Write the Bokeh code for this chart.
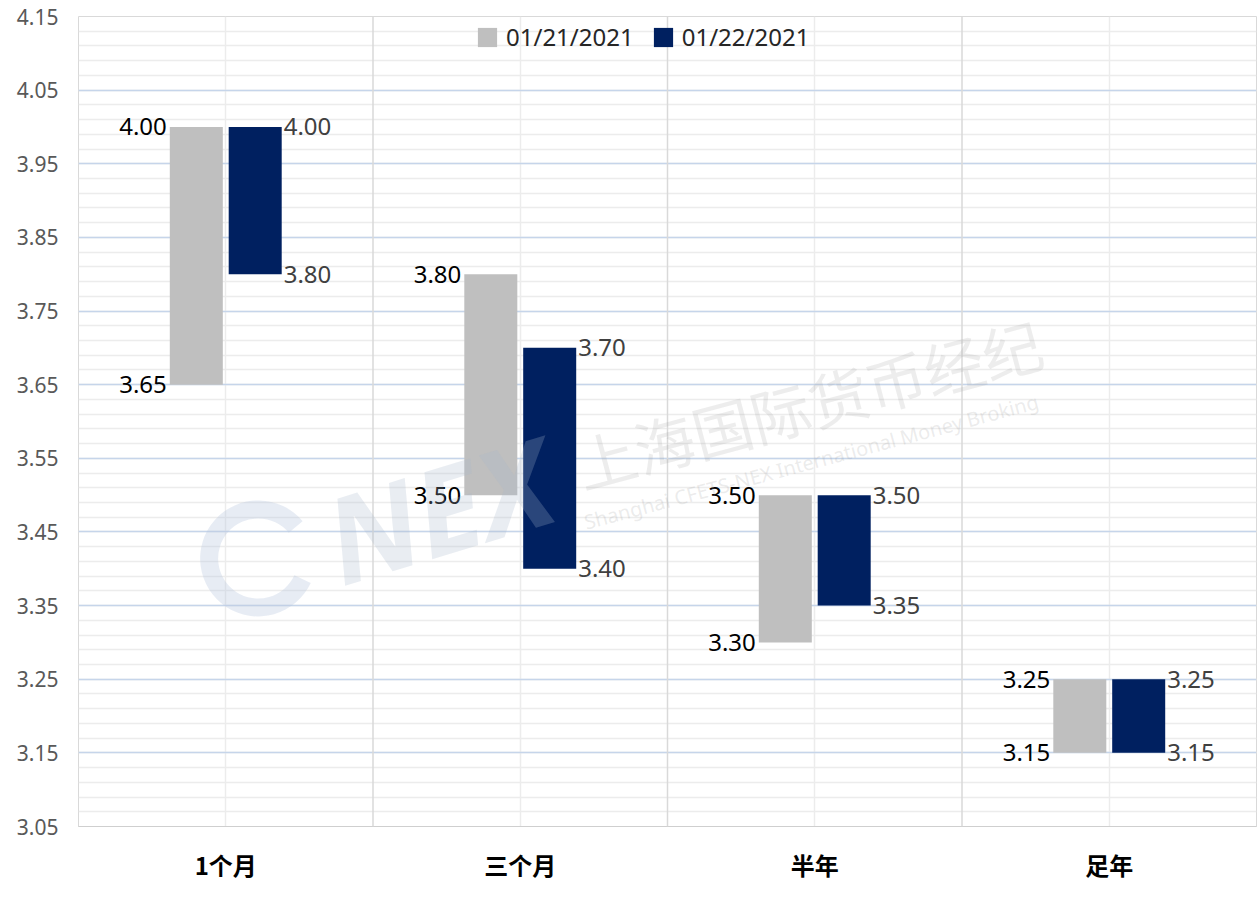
from bokeh.plotting import figure
from bokeh.models import (FactorRange, FixedTicker, Legend, LegendItem, Span,
                          ColumnDataSource, Label, PrintfTickFormatter)
from bokeh.transform import dodge
from bokeh.core.properties import value
from bokeh.embed import file_html
from bokeh.resources import INLINE
import math

# ---------------- data ----------------
categories = ["1个月", "三个月", "半年", "足年"]
series_names = ["01/21/2021", "01/22/2021"]
low_0121 = [3.65, 3.50, 3.30, 3.15]
high_0121 = [4.00, 3.80, 3.50, 3.25]
low_0122 = [3.80, 3.40, 3.35, 3.15]
high_0122 = [4.00, 3.70, 3.50, 3.25]
y_ticks = [3.05, 3.15, 3.25, 3.35, 3.45, 3.55, 3.65, 3.75, 3.85, 3.95, 4.05, 4.15]

# ---------------- style ----------------
GRAY = "#bfbfbf"
NAVY = "#002060"
NUM_FONT = "Noto Sans"
CJK_FONT = "Noto Sans CJK SC"
OFF = 0.1
W = 0.18

minor_ticks = [round(3.05 + 0.02 * i, 2) for i in range(56)]

p = figure(x_range=FactorRange(*categories, range_padding=0),
           y_range=(3.05, 4.15),
           frame_width=1178, frame_height=810,
           min_border_left=78, min_border_right=1,
           min_border_top=16, min_border_bottom=67,
           output_backend="svg", toolbar_location=None)

p.background_fill_color = "white"
p.border_fill_color = "white"
p.outline_line_color = "#d9d9d9"

ticker = FixedTicker(ticks=y_ticks, minor_ticks=minor_ticks)
p.yaxis.ticker = ticker
p.ygrid.ticker = ticker
p.yaxis.formatter = PrintfTickFormatter(format="%.2f")
p.yaxis.major_label_text_font = NUM_FONT
p.yaxis.major_label_text_font_size = "21px"
p.yaxis.major_label_text_color = "#595959"
p.yaxis.major_tick_line_color = None
p.yaxis.minor_tick_line_color = None
p.yaxis.axis_line_color = None
p.yaxis.major_label_standoff = 14

p.xaxis.major_label_text_font = CJK_FONT
p.xaxis.major_label_text_font_style = "bold"
p.xaxis.major_label_text_font_size = "24px"
p.xaxis.major_label_text_color = "#000000"
p.xaxis.major_tick_line_color = None
p.xaxis.axis_line_color = "#cfcfcf"
p.xaxis.major_label_standoff = 14

p.ygrid.grid_line_color = "#c6d5ea"
p.ygrid.grid_line_width = 1.5
p.ygrid.minor_grid_line_color = "#ececec"
p.ygrid.minor_grid_line_width = 1.5
p.xgrid.grid_line_color = "#ececec"
p.xgrid.grid_line_width = 1.5

for k in range(1, len(categories)):
    p.add_layout(Span(location=k, dimension="height", line_color="#d9d9d9", line_width=1.5))

# ---------------- bars ----------------
fmt = lambda vals: ["%.2f" % v for v in vals]
src0 = ColumnDataSource(dict(cat=categories, low=low_0121, high=high_0121,
                             low_t=fmt(low_0121), high_t=fmt(high_0121)))
src1 = ColumnDataSource(dict(cat=categories, low=low_0122, high=high_0122,
                             low_t=fmt(low_0122), high_t=fmt(high_0122)))

r0 = p.vbar(x=dodge("cat", -OFF, range=p.x_range), width=W, bottom="low", top="high",
            source=src0, fill_color=GRAY, line_color=None)
r1 = p.vbar(x=dodge("cat", OFF, range=p.x_range), width=W, bottom="low", top="high",
            source=src1, fill_color=NAVY, line_color=None)

for col in ("high", "low"):
    p.text(x=dodge("cat", -OFF - W / 2, range=p.x_range), y=col, text=col + "_t", source=src0,
           text_align="right", text_baseline="middle", x_offset=-3,
           text_font=value(NUM_FONT), text_font_size="24px", text_color="#000000")
    p.text(x=dodge("cat", OFF + W / 2, range=p.x_range), y=col, text=col + "_t", source=src1,
           text_align="left", text_baseline="middle", x_offset=2,
           text_font=value(NUM_FONT), text_font_size="24px", text_color="#404040")

# ---------------- watermark ----------------
p.annular_wedge(x=0.61, y=3.414, inner_radius=40, outer_radius=58,
                inner_radius_units="screen", outer_radius_units="screen",
                start_angle=math.radians(40), end_angle=math.radians(-25),
                fill_color="#b9c9e0", fill_alpha=0.35, line_color=None)
p.add_layout(Label(x=0.93, y=3.33, text="NEX", angle=17, angle_units="deg",
                   text_font=NUM_FONT, text_font_style="bold italic", text_font_size="120px",
                   text_color="#a9b6cc", text_alpha=0.25))
p.add_layout(Label(x=1.73, y=3.485, text="上海国际货币经纪", angle=15, angle_units="deg",
                   text_font=CJK_FONT, text_font_size="60px",
                   text_color="#9a9a9a", text_alpha=0.18))
p.add_layout(Label(x=1.73, y=3.445, text="Shanghai CFETS-NEX International Money Broking",
                   angle=15, angle_units="deg",
                   text_font=NUM_FONT, text_font_size="20px",
                   text_color="#9a9a9a", text_alpha=0.2))

# ---------------- legend ----------------
legend = Legend(items=[LegendItem(label=series_names[0], renderers=[r0]),
                       LegendItem(label=series_names[1], renderers=[r1])],
                orientation="horizontal", location=(397, 773),
                glyph_width=24, glyph_height=24, label_standoff=7, spacing=17,
                padding=0, margin=0,
                label_text_font=NUM_FONT, label_text_font_size="24px",
                label_text_color="#262626",
                background_fill_alpha=0, border_line_color=None)
p.add_layout(legend)

open("out.html", "w").write(file_html(p, INLINE))
